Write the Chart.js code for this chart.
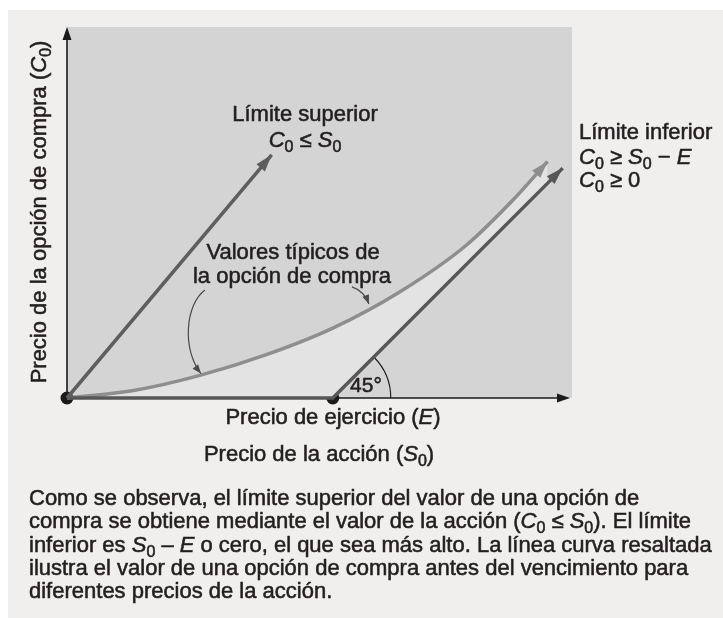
<!DOCTYPE html>
<html>
<head>
<meta charset="utf-8">
<script src="https://cdn.jsdelivr.net/npm/chart.js@4/dist/chart.umd.min.js"></script>
<style>
  html, body { margin: 0; padding: 0; background: #ffffff; }
  #wrap { width: 723px; height: 618px; }
</style>
</head>
<body>
<div id="wrap"><canvas id="grafica" width="723" height="618"></canvas></div>
<script>
// Precio de ejercicio (E) y limites del eje, en las mismas unidades que S0 y C0
const strike = 100;
const xMax = 190;
const yMax = 139.6;

// Limite superior C0 <= S0
const upperX = [0, 77];
const upperY = [0, 91.5];

// Limite inferior max(S0 - E, 0)
const lowerX = [0, 100, 186.5];
const lowerY = [0, 0, 86.5];

// Valores tipicos de la opcion de compra (curva)
const curveX = [0, 25, 50, 75, 100, 125, 150, 167.7, 180.8];
const curveY = [0, 2.8, 8.5, 16.3, 26.3, 39.8, 57.3, 74.4, 89];

// Puntos marcados: origen y precio de ejercicio
const dotX = [0, strike];
const dotY = [0, 0];

const FONT = '"Liberation Sans", Arial, sans-serif';
const INK = "#231f20";

const toPts = (xs, ys) => xs.map((x, i) => ({ x: x, y: ys[i] }));

// texto con *cursiva* y _subindice (un caracter)
function parseRich(str) {
  const runs = [];
  let it = false;
  for (let i = 0; i < str.length; i++) {
    const ch = str[i];
    if (ch === "*") { it = !it; continue; }
    if (ch === "_") { runs.push({ t: str[i + 1], it: false, sub: true }); i++; continue; }
    const last = runs[runs.length - 1];
    if (last && !last.sub && last.it === it) last.t += ch;
    else runs.push({ t: ch, it: it, sub: false });
  }
  return runs;
}

function fontFor(r, size) {
  return (r.it ? "italic " : "") + (r.sub ? Math.round(size * 0.72) : size) + "px " + FONT;
}

// el original usa un peso medio: relleno + trazo fino
function drawRich(ctx, str, x, y, align, size) {
  const runs = parseRich(str);
  let w = 0;
  runs.forEach(r => { ctx.font = fontFor(r, size); r.w = ctx.measureText(r.t).width; w += r.w; });
  let cx = align === "center" ? x - w / 2 : x;
  ctx.textAlign = "left";
  ctx.textBaseline = "middle";
  ctx.strokeStyle = ctx.fillStyle;
  ctx.lineWidth = 0.55;
  ctx.lineJoin = "round";
  runs.forEach(r => {
    ctx.font = fontFor(r, size);
    const yy = y + (r.sub ? size * 0.3 : 0);
    ctx.fillText(r.t, cx, yy);
    ctx.strokeText(r.t, cx, yy);
    cx += r.w;
  });
}

function arrowHead(ctx, tipX, tipY, fromX, fromY, color, len, half) {
  const a = Math.atan2(tipY - fromY, tipX - fromX);
  ctx.save();
  ctx.fillStyle = color;
  ctx.beginPath();
  ctx.moveTo(tipX, tipY);
  ctx.lineTo(tipX - len * Math.cos(a) + half * Math.sin(a), tipY - len * Math.sin(a) - half * Math.cos(a));
  ctx.lineTo(tipX - len * Math.cos(a) - half * Math.sin(a), tipY - len * Math.sin(a) + half * Math.cos(a));
  ctx.closePath();
  ctx.fill();
  ctx.restore();
}

// fondo, ejes y ángulo de 45°
const fondo = {
  id: "fondo",
  beforeDraw(chart) {
    const ctx = chart.ctx;
    const a = chart.chartArea;
    ctx.save();
    ctx.fillStyle = "#ffffff";
    ctx.fillRect(0, 0, chart.width, chart.height);
    ctx.fillStyle = "#f0efed";
    ctx.fillRect(8, 10, chart.width - 8, chart.height - 10);
    ctx.fillStyle = "#d4d4d4";
    ctx.fillRect(a.left, a.top, a.right - a.left, a.bottom - a.top);
    ctx.restore();
  },
  beforeDatasetsDraw(chart) {
    const ctx = chart.ctx;
    const sx = chart.scales.x, sy = chart.scales.y;
    const x0 = sx.getPixelForValue(0), y0 = sy.getPixelForValue(0);
    const xr = sx.getPixelForValue(xMax) - 2, yt = sy.getPixelForValue(yMax);
    ctx.save();
    ctx.strokeStyle = "#1a1a1a";
    ctx.lineWidth = 1.6;
    ctx.beginPath();
    ctx.moveTo(x0, y0); ctx.lineTo(x0, yt + 6);
    ctx.moveTo(x0, y0); ctx.lineTo(xr - 6, y0);
    ctx.stroke();
    arrowHead(ctx, x0, yt, x0, yt + 20, "#1a1a1a", 13, 4.5);
    arrowHead(ctx, xr, y0, xr - 20, y0, "#1a1a1a", 13, 4.5);

    // arco de 45°
    const ex = sx.getPixelForValue(strike);
    ctx.lineWidth = 1.1;
    ctx.beginPath();
    ctx.arc(ex, y0, 58, -Math.PI / 4, 0);
    ctx.stroke();
    ctx.restore();
  },
  afterDatasetsDraw(chart) {
    const ctx = chart.ctx;
    chart.data.datasets.forEach((ds, i) => {
      if (!ds.arrow) return;
      const pts = chart.getDatasetMeta(i).data;
      const b = pts[pts.length - 1];
      let fx, fy;
      if (ds.tension && b.cp1x !== undefined) { fx = b.cp1x; fy = b.cp1y; }
      else { fx = pts[pts.length - 2].x; fy = pts[pts.length - 2].y; }
      arrowHead(ctx, b.x, b.y, fx, fy, ds.borderColor, 17, 5.5);
    });
  }
};

// textos y flechas de las anotaciones
const textos = {
  id: "textos",
  afterDraw(chart) {
    const ctx = chart.ctx;
    const sx = chart.scales.x, sy = chart.scales.y;
    const px = (x, y) => [sx.getPixelForValue(x), sy.getPixelForValue(y)];
    ctx.save();
    ctx.fillStyle = INK;

    drawRich(ctx, "Límite superior", 305, 115, "center", 22);
    drawRich(ctx, "*C*_0 ≤ *S*_0", 305, 141, "center", 22);

    drawRich(ctx, "Límite inferior", 579, 133, "left", 22);
    drawRich(ctx, "*C*_0 ≥ *S*_0 − *E*", 579, 158, "left", 22);
    drawRich(ctx, "*C*_0 ≥ 0", 579, 181, "left", 22);

    drawRich(ctx, "Valores típicos de", 293, 253, "center", 22);
    drawRich(ctx, "la opción de compra", 292, 277, "center", 22);

    drawRich(ctx, "45°", 366, 386, "center", 21);

    drawRich(ctx, "Precio de ejercicio (*E*)", 333, 418, "center", 22);
    drawRich(ctx, "Precio de la acción (*S*_0)", 319, 455, "center", 22);

    ctx.save();
    ctx.translate(40, 212);
    ctx.rotate(-Math.PI / 2);
    drawRich(ctx, "Precio de la opción de compra (*C*_0)", 0, 0, "center", 22);
    ctx.restore();

    const caption = [
      "Como se observa, el límite superior del valor de una opción de",
      "compra se obtiene mediante el valor de la acción (*C*_0 ≤ *S*_0). El límite",
      "inferior es *S*_0 – *E* o cero, el que sea más alto. La línea curva resaltada",
      "ilustra el valor de una opción de compra antes del vencimiento para",
      "diferentes precios de la acción."
    ];
    caption.forEach((l, i) => drawRich(ctx, l, 29, 499 + i * 23.3, "left", 22));

    // flechas curvas que señalan la curva
    ctx.strokeStyle = "#4a4a4a";
    ctx.lineWidth = 1.2;
    let s = px(51.9, 40.6), c1 = px(44.4, 35.0), c2 = px(43.3, 18.1), e = px(50.4, 9.2);
    ctx.beginPath();
    ctx.moveTo(s[0], s[1]);
    ctx.bezierCurveTo(c1[0], c1[1], c2[0], c2[1], e[0], e[1]);
    ctx.stroke();
    arrowHead(ctx, e[0], e[1], c2[0], c2[1], "#4a4a4a", 9, 3.5);

    s = px(107.2, 41.8); c1 = px(111.7, 40.3); e = px(113.6, 35.4);
    ctx.beginPath();
    ctx.moveTo(s[0], s[1]);
    ctx.quadraticCurveTo(c1[0], c1[1], e[0], e[1]);
    ctx.stroke();
    arrowHead(ctx, e[0], e[1], c1[0], c1[1], "#4a4a4a", 9, 3.5);
    ctx.restore();
  }
};

new Chart(document.getElementById("grafica"), {
  type: "scatter",
  data: {
    datasets: [
      {
        label: "Límite superior",
        data: toPts(upperX, upperY),
        showLine: true,
        borderColor: "#5e5e5e",
        borderWidth: 3.5,
        pointRadius: 0,
        arrow: true
      },
      {
        label: "Límite inferior",
        data: toPts(lowerX, lowerY),
        showLine: true,
        borderColor: "#575757",
        borderWidth: 3.5,
        pointRadius: 0,
        arrow: true
      },
      {
        label: "Valores típicos",
        data: toPts(curveX, curveY),
        showLine: true,
        borderColor: "#8e8e8e",
        borderWidth: 3.5,
        pointRadius: 0,
        tension: 0.4,
        cubicInterpolationMode: "monotone",
        fill: { target: 1 },
        backgroundColor: "#e3e3e3",
        arrow: true
      },
      {
        label: "Puntos",
        data: toPts(dotX, dotY),
        showLine: false,
        pointRadius: 6.5,
        pointBackgroundColor: "#1a1a1a",
        pointBorderWidth: 0
      }
    ]
  },
  options: {
    responsive: false,
    animation: false,
    layout: { padding: { left: 67, right: 151, top: 27, bottom: 220 } },
    plugins: { legend: { display: false }, tooltip: { enabled: false } },
    scales: {
      x: { type: "linear", min: 0, max: xMax, display: false },
      y: { type: "linear", min: 0, max: yMax, display: false }
    },
    elements: { line: { borderCapStyle: "butt" } },
    clip: false
  },
  plugins: [fondo, textos]
});
</script>
</body>
</html>
